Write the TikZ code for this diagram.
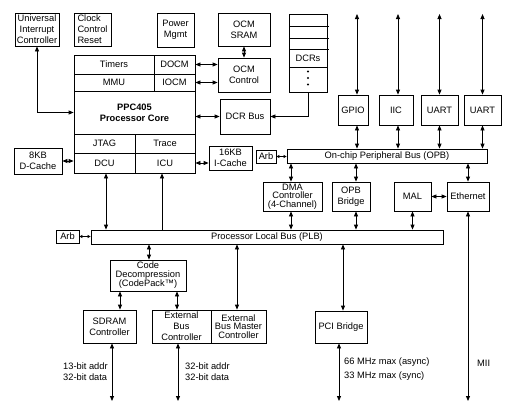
\documentclass[tikz,border=0pt]{standalone}
\usepackage{fontspec}
\setmainfont{Liberation Sans}
\usetikzlibrary{arrows.meta}
\tikzset{
 box/.style={draw, line width=0.8pt, inner sep=0pt, align=center, font=\fontsize{9.3}{11}\selectfont},
 tight/.style={font=\fontsize{9.3}{8.3}\selectfont},
 dar/.style={line width=0.8pt, {Triangle[length=5pt,width=4pt]}-{Triangle[length=5pt,width=4pt]}},
 sar/.style={line width=0.8pt, -{Triangle[length=5pt,width=4pt]}},
 tar/.style={line width=0.8pt, {Triangle[length=3pt,width=3pt]}-{Triangle[length=3pt,width=3pt]}},
 lbl/.style={inner sep=0pt, anchor=west, font=\fontsize{9.3}{11}\selectfont},
}
\newcommand\mybox[7][]{\node[box,#1,minimum width={(#5-#3)*1pt},minimum height={(#6-#4)*1pt}] (#2) at ({(#3+#5)/2},{(#4+#6)/2}) {#7};}
\begin{document}
\begin{tikzpicture}[x=1pt,y=-1pt]
\fill[white] (0,0) rectangle (516,416);
\useasboundingbox (0,0) rectangle (516,416);
\coordinate (topline) at (0,14);
\coordinate (botline) at (0,401);
% top row
\mybox{uic}{15}{13}{59}{46}{Universal\\Interrupt\\Controller}
\mybox[align=left]{clk}{74}{13}{111}{46}{Clock\\Control\\Reset}
\mybox{pwr}{157}{13}{194}{47}{Power\\Mgmt}
\mybox{ocmsram}{218}{13}{270}{46}{OCM\\SRAM}
\mybox{ocmctl}{218}{58}{270}{92}{OCM\\Control}
\mybox{dcrbus}{220}{99}{270}{134}{DCR Bus}
% DCR stack
\mybox{dcrs}{289}{14}{327}{92}{}
\draw[line width=0.8pt] (289,26) -- (329,26) (289,38) -- (329,38) (289,49) -- (329,49) (289,67) -- (327,67);
\node[box,draw=none] (dcrslbl) at (308,58) {DCRs};
\fill (308,71.5) circle (1.2) (308,78) circle (1.2) (308,84.5) circle (1.2);
% processor
\mybox{timers}{74}{55}{154}{74}{Timers}
\mybox{docm}{154}{55}{195}{74}{DOCM}
\mybox{mmu}{74}{74}{154}{91}{MMU}
\mybox{iocm}{154}{74}{195}{91}{IOCM}
\mybox{core}{74}{91}{195}{134}{\textbf{PPC405}\\\textbf{Processor Core}}
\mybox{jtag}{74}{134}{135}{153}{JTAG}
\mybox{trace}{135}{134}{195}{153}{Trace}
\mybox{dcu}{74}{153}{135}{173}{DCU}
\mybox{icu}{135}{153}{195}{173}{ICU}
\mybox{dcache}{14}{148}{62}{174}{8KB\\D-Cache}
\mybox{icache}{209}{146}{252}{170}{16KB\\I-Cache}
% peripherals
\mybox{gpio}{338}{95}{368}{125}{GPIO}
\mybox{iic}{379}{95}{413}{125}{IIC}
\mybox{uarta}{421}{95}{458}{125}{UART}
\mybox{uartb}{464}{95}{501}{125}{UART}
\mybox{opb}{287}{149}{487}{163}{On-chip Peripheral Bus (OPB)}
\mybox{arbopb}{256}{150}{276}{163}{Arb}
\mybox[tight]{dma}{263}{182}{322}{211}{DMA\\Controller\\(4-Channel)}
\mybox{opbb}{332}{182}{370}{211}{OPB\\Bridge}
\mybox{mal}{394}{182}{431}{211}{MAL}
\mybox{eth}{447}{182}{489}{211}{Ethernet}
% PLB
\mybox{plb}{91}{230}{443}{244}{Processor Local Bus (PLB)}
\mybox{arbplb}{56}{230}{79}{243}{Arb}
\mybox[tight]{codec}{110}{260}{186}{291}{Code\\Decompression\\(CodePack™)}
\mybox{sdram}{83}{310}{136}{343}{SDRAM\\Controller}
\mybox{ebc}{152}{310}{211}{343}{External\\Bus\\Controller}
\mybox[tight]{ebmc}{211}{310}{266}{343}{External\\Bus Master\\Controller}
\mybox{pci}{315}{311}{367}{343}{PCI Bridge}
% labels
\node[lbl] (l1) at (63,366) {13-bit addr};
\node[lbl] (l2) at (63,377) {32-bit data};
\node[lbl] (l3) at (185,366) {32-bit addr};
\node[lbl] (l4) at (185,377) {32-bit data};
\node[lbl] (l5) at (344,362.5) {66 MHz max (async)};
\node[lbl] (l6) at (344,376) {33 MHz max (sync)};
\node[lbl] (l7) at (477,363) {MII};
% connectors
\draw[dar] (uic.south) |- (core.west);
\draw[dar] (ocmsram.south) -- (ocmctl.north);
\draw[dar] (docm.east) -- (docm.east -| ocmctl.west);
\draw[dar] (iocm.east) -- (iocm.east -| ocmctl.west);
\draw[dar] (core.east |- dcrbus.west) -- (dcrbus.west);
\draw[sar] (dcrs.south) |- (dcrbus.east);
\draw[dar] ([xshift=4pt]gpio.north |- topline) -- ([xshift=4pt]gpio.north);
\draw[dar] ([xshift=2pt]iic.north |- topline) -- ([xshift=2pt]iic.north);
\draw[dar] (uarta.north |- topline) -- (uarta.north);
\draw[dar] (uartb.north |- topline) -- (uartb.north);
\draw[dar] ([xshift=4pt]gpio.south) -- ([xshift=4pt]gpio.south |- opb.north);
\draw[dar] ([xshift=2pt]iic.south) -- ([xshift=2pt]iic.south |- opb.north);
\draw[dar] (uarta.south) -- (uarta.south |- opb.north);
\draw[dar] (uartb.south) -- (uartb.south |- opb.north);
\draw[tar] (arbopb.east) -- (arbopb.east -| opb.west);
\draw[dar] (icu.east) -- (icu.east -| icache.west);
\draw[dar] (dcache.east) -- (dcache.east -| dcu.west);
\draw[dar] ([xshift=1.5pt]dcu.south) -- ([xshift=1.5pt]dcu.south |- plb.north);
\draw[sar] ([xshift=-3pt]icu.south |- plb.north) -- ([xshift=-3pt]icu.south);
\draw[tar] (arbplb.east) -- (arbplb.east -| plb.west);
\draw[dar] ([xshift=-1.5pt]dma.north |- opb.south) -- ([xshift=-1.5pt]dma.north);
\draw[dar] ([xshift=-1.5pt]dma.south) -- ([xshift=-1.5pt]dma.south |- plb.north);
\draw[dar] ([xshift=5pt]opbb.north |- opb.south) -- ([xshift=5pt]opbb.north);
\draw[dar] ([xshift=5pt]opbb.south) -- ([xshift=5pt]opbb.south |- plb.north);
\draw[dar] (mal.south) -- (mal.south |- plb.north);
\draw[dar] (eth.north |- opb.south) -- (eth.north);
\draw[dar] (mal.east) -- (eth.west);
\draw[dar] (eth.south) -- (eth.south |- botline);
\draw[dar] ([xshift=1pt]codec.north |- plb.south) -- ([xshift=1pt]codec.north);
\draw[dar] ([xshift=10.5pt]sdram.north |- codec.south) -- ([xshift=10.5pt]sdram.north);
\draw[dar] ([xshift=-4.5pt]ebc.north |- codec.south) -- ([xshift=-4.5pt]ebc.north);
\draw[dar] ([xshift=-1.5pt]ebmc.north |- plb.south) -- ([xshift=-1.5pt]ebmc.north);
\draw[dar] ([xshift=2pt]pci.north |- plb.south) -- ([xshift=2pt]pci.north);
\draw[dar] ([xshift=2.5pt]sdram.south) -- ([xshift=2.5pt]sdram.south |- botline);
\draw[dar] ([xshift=-3.5pt]ebc.south) -- ([xshift=-3.5pt]ebc.south |- botline);
\draw[dar] ([xshift=-2pt]pci.south) -- ([xshift=-2pt]pci.south |- botline);
\end{tikzpicture}
\end{document}
